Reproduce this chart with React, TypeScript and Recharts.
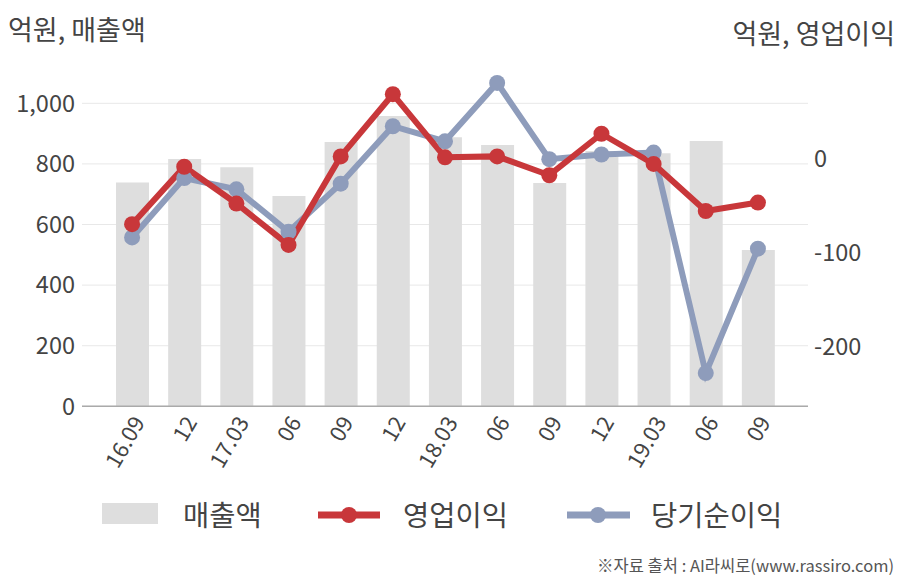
import React from "react";
import { ComposedChart, Bar, Line, XAxis, YAxis, CartesianGrid } from "recharts";

const categories = ["16.09", "12", "17.03", "06", "09", "12", "18.03", "06", "09", "12", "19.03", "06", "09"];
const sales = [739, 816, 789, 694, 872, 958, 888, 862, 737, 843, 835, 876, 516];
const operatingProfit = [-70, -9, -48, -92, 2, 68, 1, 2, -18, 26, -6, -56, -47];
const netProfit = [-84, -21, -33, -78, -27, 34, 18, 80, -1, 4, 6, -228, -96];
const leftTicks = [0, 200, 400, 600, 800, 1000];
const rightTicks = [-200, -100, 0];

const data = categories.map((c, i) => ({
  name: c,
  sales: sales[i],
  op: operatingProfit[i],
  net: netProfit[i],
}));

const FONT = "'Noto Sans CJK KR', 'Noto Sans', sans-serif";
const TEXT = "#444";
const RED = "#c8373a";
const BLUE = "#8e9cbb";
const BAR = "#dedede";

const fmt = (v: number) => v.toLocaleString("en-US");

export default function App() {
  return (
    <div style={{ position: "absolute", left: 0, top: 0, width: 908, height: 580, background: "#fff", fontFamily: FONT }}>
      <ComposedChart
        width={908}
        height={580}
        data={data}
        margin={{ top: 73, right: 8, bottom: 113.67, left: 8 }}
      >
        <CartesianGrid
          yAxisId="left"
          vertical={false}
          horizontalValues={leftTicks}
          stroke="#e8e8e8"
          strokeWidth={1}
        />
        <XAxis
          dataKey="name"
          height={60}
          padding={{ left: 24, right: 24 }}
          interval={0}
          angle={-60}
          textAnchor="end"
          tickLine={false}
          axisLine={{ stroke: "#aaaaaa", strokeWidth: 1.5 }}
          tick={{ fill: TEXT, fontSize: 22, fontFamily: FONT }}
        />
        <YAxis
          yAxisId="left"
          orientation="left"
          width={74}
          domain={[0, 1100]}
          ticks={leftTicks}
          tickFormatter={fmt}
          axisLine={false}
          tickLine={false}
          tickMargin={1}
          tick={{ fill: TEXT, fontSize: 23.5, fontFamily: FONT }}
        />
        <YAxis
          yAxisId="right"
          orientation="right"
          width={92}
          domain={[-263.3, 90.5]}
          ticks={rightTicks}
          axisLine={false}
          tickLine={false}
          tickMargin={0}
          tick={{ fill: TEXT, fontSize: 23.5, fontFamily: FONT }}
        />
        <Bar yAxisId="left" dataKey="sales" fill={BAR} barSize={33} isAnimationActive={false} />
        <Line
          yAxisId="right"
          dataKey="net"
          stroke={BLUE}
          strokeWidth={6}
          dot={{ r: 8, fill: BLUE, stroke: "none" }}
          activeDot={false}
          isAnimationActive={false}
        />
        <Line
          yAxisId="right"
          dataKey="op"
          stroke={RED}
          strokeWidth={6}
          dot={{ r: 8, fill: RED, stroke: "none" }}
          activeDot={false}
          isAnimationActive={false}
        />
      </ComposedChart>

      <div style={{ position: "absolute", left: 8, top: 11, fontSize: 27, color: TEXT, lineHeight: "36px", whiteSpace: "nowrap" }}>
        억원, 매출액
      </div>
      <div style={{ position: "absolute", right: 13, top: 15, fontSize: 27, color: TEXT, lineHeight: "36px", whiteSpace: "nowrap" }}>
        억원, 영업이익
      </div>

      {/* legend */}
      <div style={{ position: "absolute", left: 102, top: 503, width: 56, height: 21, background: BAR }} />
      <div style={{ position: "absolute", left: 183, top: 494, fontSize: 28.5, color: TEXT, lineHeight: "40px", whiteSpace: "nowrap" }}>매출액</div>
      <svg style={{ position: "absolute", left: 310, top: 500 }} width={80} height={30}>
        <line x1={8} y1={15} x2={70} y2={15} stroke={RED} strokeWidth={7} />
        <circle cx={39} cy={15} r={8} fill={RED} />
      </svg>
      <div style={{ position: "absolute", left: 403, top: 494, fontSize: 28.5, color: TEXT, lineHeight: "40px", whiteSpace: "nowrap" }}>영업이익</div>
      <svg style={{ position: "absolute", left: 559, top: 500 }} width={80} height={30}>
        <line x1={8} y1={15} x2={71} y2={15} stroke={BLUE} strokeWidth={7} />
        <circle cx={39} cy={15} r={8} fill={BLUE} />
      </svg>
      <div style={{ position: "absolute", left: 651, top: 494, fontSize: 28.5, color: TEXT, lineHeight: "40px", whiteSpace: "nowrap" }}>당기순이익</div>

      <div style={{ position: "absolute", right: 14, top: 553, fontSize: 16.5, color: "#555", lineHeight: "24px", whiteSpace: "nowrap" }}>
        ※자료 출처 : AI라씨로(www.rassiro.com)
      </div>
    </div>
  );
}
